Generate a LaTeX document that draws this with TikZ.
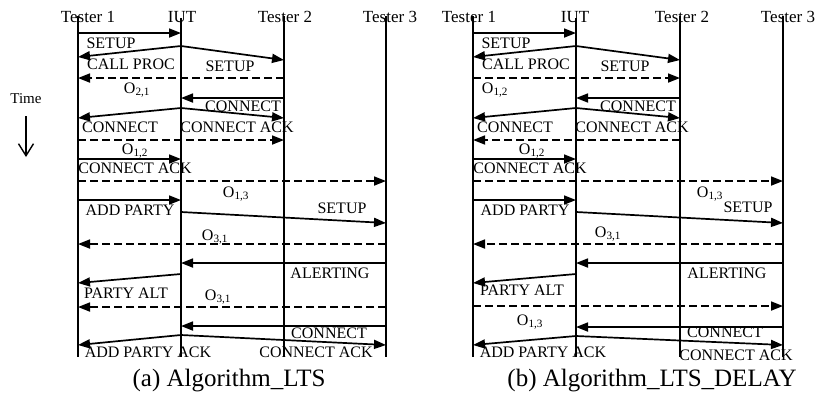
\documentclass[tikz,border=0pt]{standalone}
\usepackage{fontspec}
\setmainfont{Liberation Serif}
\usetikzlibrary{arrows.meta}
\tikzset{
  life/.style={line width=2.1pt},
  msg/.style={line width=1.7pt,-{Triangle[length=12pt,width=9pt]}},
  dmsg/.style={msg,dash pattern=on 8pt off 4pt},
  lbl/.style={inner sep=0pt,font=\fontsize{16}{16}\selectfont},
  hdr/.style={inner sep=0pt,anchor=base,font=\fontsize{17}{17}\selectfont},
  capt/.style={inner sep=0pt,anchor=base,font=\fontsize{25}{25}\selectfont},
  timearrow/.style={line width=1.4pt,-{Straight Barb[length=12pt,width=15pt,line width=1.4pt]}}
}
\newcommand{\pt}[3]{\coordinate (#1) at (#2,#3);}
\begin{document}
\begin{tikzpicture}[x=1pt,y=-1pt]
\useasboundingbox (0,0) rectangle (819,397);

% ---------- Time ----------
\node[lbl,font=\fontsize{15}{15}\selectfont] (time) at (26,99) {Time};
\pt{tA}{26}{116}\pt{tB}{26}{157}
\draw[timearrow] (tA) -- (tB);

% ================= Panel (a) =================
\node[hdr] (ah1) at (88,22) {Tester 1};
\node[hdr] (ah2) at (182,22) {IUT};
\node[hdr] (ah3) at (285,22) {Tester 2};
\node[hdr] (ah4) at (390,22) {Tester 3};
\pt{aL1t}{78}{16}\pt{aL1b}{78}{357}
\pt{aL2t}{181}{18}\pt{aL2b}{181}{357}
\pt{aL3t}{284}{16}\pt{aL3b}{284}{357}
\pt{aL4t}{386}{16}\pt{aL4b}{386}{357}
\draw[life] (aL1t) -- (aL1b);
\draw[life] (aL2t) -- (aL2b);
\draw[life] (aL3t) -- (aL3b);
\draw[life] (aL4t) -- (aL4b);

\pt{am1s}{78}{33}\pt{am1e}{181}{33}
\pt{am2s}{181}{46}\pt{am2e}{78}{57}
\pt{am3e}{284}{60}
\pt{am4s}{284}{78}\pt{am4e}{78}{78}
\pt{am5s}{284}{98}\pt{am5e}{181}{98}
\pt{am6s}{181}{108}\pt{am6e}{78}{118}
\pt{am7e}{284}{118}
\pt{am8s}{78}{140}\pt{am8e}{284}{140}
\pt{am9s}{78}{159}\pt{am9e}{181}{159}
\pt{am10s}{78}{181}\pt{am10e}{386}{181}
\pt{am11s}{78}{200}\pt{am11e}{181}{200}
\pt{am12s}{181}{212}\pt{am12e}{386}{223}
\pt{am13s}{386}{244}\pt{am13e}{78}{244}
\pt{am14s}{386}{263}\pt{am14e}{181}{263}
\pt{am15s}{181}{274}\pt{am15e}{78}{283}
\pt{am16s}{386}{307}\pt{am16e}{78}{307}
\pt{am17s}{386}{326}\pt{am17e}{181}{326}
\pt{am18s}{181}{335}\pt{am18e}{78}{345}
\pt{am19e}{386}{345}

\draw[msg] (am1s) -- (am1e);
\draw[msg] (am2s) -- (am2e);
\draw[msg] (am2s) -- (am3e);
\draw[dmsg] (am4s) -- (am4e);
\draw[msg] (am5s) -- (am5e);
\draw[msg] (am6s) -- (am6e);
\draw[msg] (am6s) -- (am7e);
\draw[dmsg] (am8s) -- (am8e);
\draw[msg] (am9s) -- (am9e);
\draw[dmsg] (am10s) -- (am10e);
\draw[msg] (am11s) -- (am11e);
\draw[msg] (am12s) -- (am12e);
\draw[dmsg] (am13s) -- (am13e);
\draw[msg] (am14s) -- (am14e);
\draw[msg] (am15s) -- (am15e);
\draw[dmsg] (am16s) -- (am16e);
\draw[msg] (am17s) -- (am17e);
\draw[msg] (am18s) -- (am18e);
\draw[msg] (am18s) -- (am19e);

\node[lbl] (al1) at (111,43) {SETUP};
\node[lbl] (al2) at (131,64) {CALL PROC};
\node[lbl] (al3) at (230,66) {SETUP};
\node[lbl,anchor=base] (al4) at (137,93) {O\textsubscript{2,1}};
\node[lbl] (al5) at (243,106) {CONNECT};
\node[lbl] (al6) at (120,127) {CONNECT};
\node[lbl] (al7) at (237,127) {CONNECT ACK};
\node[lbl,anchor=base] (al8) at (135,154) {O\textsubscript{1,2}};
\node[lbl] (al9) at (135,168) {CONNECT ACK};
\node[lbl,anchor=base] (al10) at (236,197) {O\textsubscript{1,3}};
\node[lbl] (al11) at (130,210) {ADD PARTY};
\node[lbl] (al12) at (342,208) {SETUP};
\node[lbl,anchor=base] (al13) at (215,240) {O\textsubscript{3,1}};
\node[lbl] (al14) at (330,273) {ALERTING};
\node[lbl] (al15) at (126,293) {PARTY ALT};
\node[lbl,anchor=base] (al16) at (218,300) {O\textsubscript{3,1}};
\node[lbl] (al17) at (329,333) {CONNECT};
\node[lbl] (al18) at (148,352) {ADD PARTY ACK};
\node[lbl] (al19) at (316,352) {CONNECT ACK};

\node[capt] (acap) at (229,386) {(a) Algorithm\_LTS};

% ================= Panel (b) =================
\node[hdr] (bh1) at (469,22) {Tester 1};
\node[hdr] (bh2) at (575,22) {IUT};
\node[hdr] (bh3) at (682,22) {Tester 2};
\node[hdr] (bh4) at (788,22) {Tester 3};
\pt{bL1t}{473}{16}\pt{bL1b}{473}{357}
\pt{bL2t}{576}{18}\pt{bL2b}{576}{357}
\pt{bL3t}{680}{16}\pt{bL3b}{680}{357}
\pt{bL4t}{783}{16}\pt{bL4b}{783}{357}
\draw[life] (bL1t) -- (bL1b);
\draw[life] (bL2t) -- (bL2b);
\draw[life] (bL3t) -- (bL3b);
\draw[life] (bL4t) -- (bL4b);

\pt{bm1s}{473}{33}\pt{bm1e}{576}{33}
\pt{bm2s}{576}{46}\pt{bm2e}{473}{57}
\pt{bm3e}{680}{60}
\pt{bm4s}{473}{78}\pt{bm4e}{680}{78}
\pt{bm5s}{680}{98}\pt{bm5e}{576}{98}
\pt{bm6s}{576}{108}\pt{bm6e}{473}{118}
\pt{bm7e}{680}{118}
\pt{bm8s}{680}{140}\pt{bm8e}{473}{140}
\pt{bm9s}{473}{159}\pt{bm9e}{576}{159}
\pt{bm10s}{473}{181}\pt{bm10e}{783}{181}
\pt{bm11s}{473}{200}\pt{bm11e}{576}{200}
\pt{bm12s}{576}{212}\pt{bm12e}{783}{223}
\pt{bm13s}{783}{244}\pt{bm13e}{473}{244}
\pt{bm14s}{783}{263}\pt{bm14e}{576}{263}
\pt{bm15s}{576}{274}\pt{bm15e}{473}{283}
\pt{bm16s}{473}{306}\pt{bm16e}{783}{306}
\pt{bm17s}{783}{327}\pt{bm17e}{576}{327}
\pt{bm18s}{576}{336}\pt{bm18e}{473}{345}
\pt{bm19e}{783}{345}

\draw[msg] (bm1s) -- (bm1e);
\draw[msg] (bm2s) -- (bm2e);
\draw[msg] (bm2s) -- (bm3e);
\draw[dmsg] (bm4s) -- (bm4e);
\draw[msg] (bm5s) -- (bm5e);
\draw[msg] (bm6s) -- (bm6e);
\draw[msg] (bm6s) -- (bm7e);
\draw[dmsg] (bm8s) -- (bm8e);
\draw[msg] (bm9s) -- (bm9e);
\draw[dmsg] (bm10s) -- (bm10e);
\draw[msg] (bm11s) -- (bm11e);
\draw[msg] (bm12s) -- (bm12e);
\draw[dmsg] (bm13s) -- (bm13e);
\draw[msg] (bm14s) -- (bm14e);
\draw[msg] (bm15s) -- (bm15e);
\draw[dmsg] (bm16s) -- (bm16e);
\draw[msg] (bm17s) -- (bm17e);
\draw[msg] (bm18s) -- (bm18e);
\draw[msg] (bm18s) -- (bm19e);

\node[lbl] (bl1) at (506,43) {SETUP};
\node[lbl] (bl2) at (526,64) {CALL PROC};
\node[lbl] (bl3) at (625,66) {SETUP};
\node[lbl,anchor=base] (bl4) at (495,93) {O\textsubscript{1,2}};
\node[lbl] (bl5) at (638,106) {CONNECT};
\node[lbl] (bl6) at (515,127) {CONNECT};
\node[lbl] (bl7) at (632,127) {CONNECT ACK};
\node[lbl,anchor=base] (bl8) at (532,154) {O\textsubscript{1,2}};
\node[lbl] (bl9) at (530,168) {CONNECT ACK};
\node[lbl,anchor=base] (bl10) at (710,197) {O\textsubscript{1,3}};
\node[lbl] (bl11) at (525,210) {ADD PARTY};
\node[lbl] (bl12) at (748,207) {SETUP};
\node[lbl,anchor=base] (bl13) at (608,237) {O\textsubscript{3,1}};
\node[lbl] (bl14) at (727,273) {ALERTING};
\node[lbl] (bl15) at (522,290) {PARTY ALT};
\node[lbl,anchor=base] (bl16) at (530,325) {O\textsubscript{1,3}};
\node[lbl] (bl17) at (725,332) {CONNECT};
\node[lbl] (bl18) at (543,352) {ADD PARTY ACK};
\node[lbl] (bl19) at (736,355) {CONNECT ACK};

\node[capt] (bcap) at (652,386) {(b) Algorithm\_LTS\_DELAY};
\end{tikzpicture}
\end{document}
